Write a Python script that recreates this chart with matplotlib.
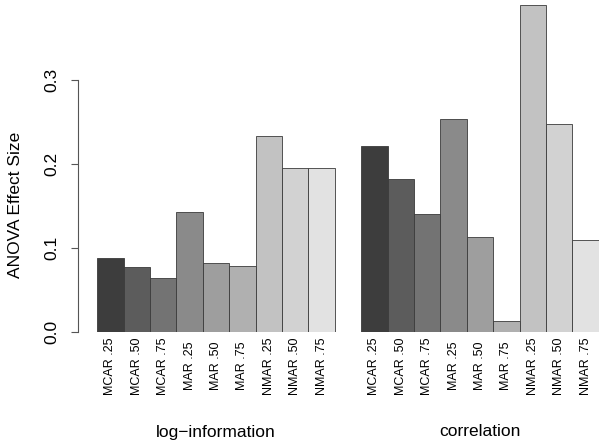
import numpy as np
import matplotlib
matplotlib.use("Agg")
import matplotlib.pyplot as plt

plt.rcParams['font.family'] = ['Liberation Sans', 'DejaVu Sans']

conditions = ["MCAR .25", "MCAR .50", "MCAR .75",
              "MAR .25", "MAR .50", "MAR .75",
              "NMAR .25", "NMAR .50", "NMAR .75"]
groups = ["log\u2212information", "correlation"]
log_info = [0.088, 0.077, 0.064, 0.143, 0.082, 0.079, 0.233, 0.195, 0.195]
correlation = [0.222, 0.182, 0.141, 0.253, 0.113, 0.013, 0.389, 0.248, 0.110]
bar_colors = ["#3d3d3d", "#5c5c5c", "#737373", "#8a8a8a", "#9e9e9e",
              "#b0b0b0", "#c2c2c2", "#d2d2d2", "#e2e2e2"]
yticks = [0.0, 0.1, 0.2, 0.3]

W, H = 604, 447
fig = plt.figure(figsize=(W / 100, H / 100), dpi=100)
# axes placed in pixel terms: x 97..599, y 4..332
ax = fig.add_axes([97.3 / W, (H - 332) / H, 501.4 / W, 327.6 / H])

n = len(conditions)
series = [log_info, correlation]
centers = []
for g, vals in enumerate(series):
    x = np.arange(n) + 0.5 + g * (n + 1)
    ax.bar(x, vals, width=1.0, color=bar_colors, edgecolor="#3a3a3a",
           linewidth=0.6)
    centers.append(x)

ax.set_xlim(0, 2 * n + 1)
ax.set_ylim(0, 0.39)

for s in ["top", "right", "bottom"]:
    ax.spines[s].set_visible(False)
ax.spines["left"].set_position(("outward", 14))
ax.spines["left"].set_bounds(0, 0.3)
ax.spines["left"].set_color("#555555")
ax.spines["left"].set_linewidth(0.8)
ax.set_yticks(yticks)
ax.set_yticklabels([f"{v:.1f}" for v in yticks], rotation=90, va="center",
                   fontsize=12.5)
ax.tick_params(axis="y", length=5, width=0.8, color="#555555", pad=8)
ax.set_xticks([])

fig.text(16 / W, 1 - 205 / H, "ANOVA Effect Size", rotation=90,
         ha="center", va="center", fontsize=12.5)

# condition labels under each bar
for x in centers:
    for xi, lab in zip(x, conditions):
        ax.text(xi, -34 / 840, lab, rotation=90, ha="center", va="center",
                fontsize=9, clip_on=False)

# group labels
for x, name in zip(centers, groups):
    ax.text(x.mean(), -100 / 840, name, ha="center", va="center",
            fontsize=12.5, clip_on=False)

fig.savefig("out.png", dpi=100)
